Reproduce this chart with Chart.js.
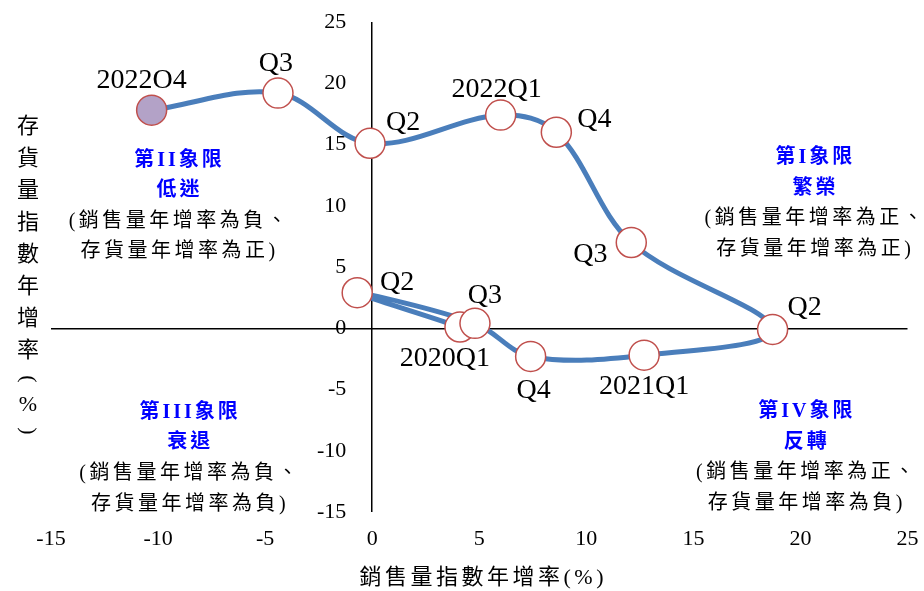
<!DOCTYPE html>
<html>
<head>
<meta charset="utf-8">
<script src="https://cdn.jsdelivr.net/npm/chart.js@4"></script>
<style>
  html, body { margin: 0; padding: 0; background: #ffffff; }
  canvas { display: block; }
</style>
</head>
<body>
<canvas id="cycle" width="924" height="591"></canvas>
<script>
// Quarterly path of sales-index growth vs inventory-index growth (%)
const quarterLabels   = ['2020Q1', 'Q2', 'Q3', 'Q4', '2021Q1', 'Q2', 'Q3', 'Q4', '2022Q1', 'Q2', 'Q3', '2022O4'];
const salesGrowth     = [4.1, -0.7, 4.8, 7.4, 12.7, 18.7, 12.1, 8.6, 6.0, -0.1, -4.4, -10.3];
const inventoryGrowth = [0.1, 2.9, 0.4, -2.3, -2.2, -0.1, 7.0, 16.0, 17.4, 15.1, 19.2, 17.8];
const axisMin = -15;
const axisMax = 25;
const axisStep = 5;
const xTitle = '銷售量指數年增率(%)';
const yTitle = '存貨量指數年增率(%)';
const quadrantNames  = ['第I象限', '第II象限', '第III象限', '第IV象限'];
const quadrantStates = ['繁榮', '低迷', '衰退', '反轉'];
const quadrantNotes  = [
  ['(銷售量年增率為正、', '存貨量年增率為正)'],
  ['(銷售量年增率為負、', '存貨量年增率為正)'],
  ['(銷售量年增率為負、', '存貨量年增率為負)'],
  ['(銷售量年增率為正、', '存貨量年增率為負)']
];

// Label placement around each point (pixels from the marker centre)
const labelOffsets = [
  [-15, 29], [40, -12], [10, -30], [3, 32], [0, 29], [32, -24],
  [-41, 10], [38, -15], [-4, -28], [33, -23], [-2, -32], [-10, -32]
];
// Quadrant note anchors in data units (centre of the first line)
const quadrantAnchors = [[20.7, 13.9], [-9.0, 13.7], [-8.5, -6.9], [20.3, -6.85]];
// The value-axis labels sit just left of the vertical zero line
const yLabelColumn = -1.21;

const serif = '"Liberation Serif", "Times New Roman", serif';
const cjk = '"Liberation Serif", "Noto Sans CJK TC", serif';

const points = salesGrowth.map((v, i) => ({ x: v, y: inventoryGrowth[i] }));
const zeroLine = (c) => (c.tick && c.tick.value === 0 ? '#000000' : 'rgba(0,0,0,0)');

const textLayer = {
  id: 'textLayer',
  afterDatasetsDraw(chart) {
    const { ctx } = chart;
    const xs = chart.scales.x;
    const ys = chart.scales.y;
    const meta = chart.getDatasetMeta(0);
    ctx.save();

    // quarter labels
    ctx.fillStyle = '#000000';
    ctx.font = '28px ' + serif;
    ctx.textAlign = 'center';
    ctx.textBaseline = 'alphabetic';
    meta.data.forEach((pt, i) => {
      const [dx, dy] = labelOffsets[i];
      ctx.fillText(quarterLabels[i], pt.x + dx, pt.y + dy + 9.5);
    });

    // quadrant notes
    ctx.textBaseline = 'middle';
    quadrantAnchors.forEach(([ax, ay], q) => {
      const cx = xs.getPixelForValue(ax);
      const cy = ys.getPixelForValue(ay);
      ctx.letterSpacing = '3px';
      ctx.fillStyle = '#0000ff';
      ctx.font = 'bold 20px ' + cjk;
      ctx.fillText(quadrantNames[q], cx, cy);
      ctx.fillText(quadrantStates[q], cx, cy + 30.5);
      ctx.letterSpacing = '3.5px';
      ctx.fillStyle = '#000000';
      ctx.font = '20px ' + cjk;
      quadrantNotes[q].forEach((line, k) => {
        ctx.fillText(line, cx, cy + 61 + k * 30.5);
      });
    });

    // horizontal axis title
    ctx.letterSpacing = '3.5px';
    ctx.font = '22px ' + cjk;
    ctx.fillStyle = '#000000';
    ctx.fillText(xTitle, (chart.chartArea.left + chart.chartArea.right) / 2 + 4, 578);

    // vertical axis title, stacked characters
    ctx.letterSpacing = '0px';
    const chars = Array.from(yTitle);
    let ty = 127;
    chars.forEach((ch) => {
      if (ch === '(' || ch === ')') {
        ctx.save();
        ctx.translate(28, ty - 4);
        ctx.rotate(Math.PI / 2);
        ctx.fillText(ch, 0, 0);
        ctx.restore();
        ty += 24;
      } else if (ch === '%') {
        ctx.fillText(ch, 28, ty - 2);
        ty += 28;
      } else {
        ctx.fillText(ch, 28, ty);
        ty += 32;
      }
    });
    ctx.restore();
  }
};

new Chart(document.getElementById('cycle'), {
  type: 'scatter',
  data: {
    datasets: [{
      data: points,
      showLine: true,
      tension: 0.35,
      borderColor: '#4a7ebb',
      borderWidth: 5,
      pointRadius: 15,
      pointHoverRadius: 15,
      pointBorderWidth: 1.5,
      pointBorderColor: '#c0504d',
      pointBackgroundColor: quarterLabels.map((_, i) => i === quarterLabels.length - 1 ? '#b3a2c7' : '#ffffff')
    }]
  },
  options: {
    responsive: false,
    animation: false,
    devicePixelRatio: 1,
    layout: { padding: { top: 22, left: 51, right: 13, bottom: 37 } },
    plugins: { legend: { display: false }, tooltip: { enabled: false } },
    scales: {
      x: {
        type: 'linear',
        position: 'bottom',
        min: axisMin, max: axisMax,
        ticks: { stepSize: axisStep, padding: 14, color: '#000000', font: { family: serif, size: 22 } },
        // only the zero grid line is shown: it is the vertical axis line
        grid: { drawTicks: false, lineWidth: 1.5, color: zeroLine },
        border: { display: false },
        afterFit(s) { s.paddingLeft = 0; s.paddingRight = 0; s.height = 42; }
      },
      y: {
        type: 'linear',
        position: { x: yLabelColumn },
        min: axisMin, max: axisMax,
        ticks: { stepSize: axisStep, color: '#000000', font: { family: serif, size: 22 } },
        // only the zero grid line is shown: it is the horizontal axis line
        grid: { drawTicks: false, lineWidth: 1.5, color: zeroLine },
        border: { display: false },
        afterFit(s) { s.paddingTop = 0; s.paddingBottom = 0; s.width = 0; }
      }
    }
  },
  plugins: [textLayer]
});
</script>
</body>
</html>
